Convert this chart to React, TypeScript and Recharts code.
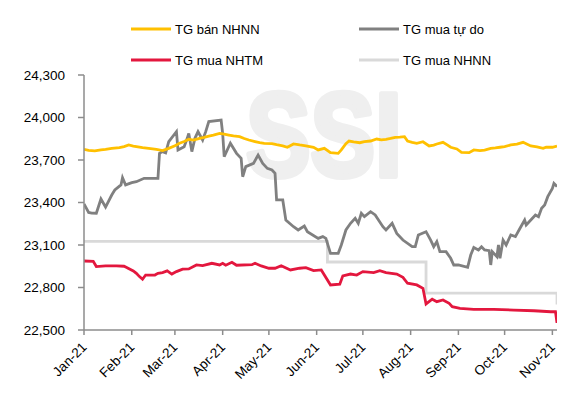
import React from "react";
import { LineChart, Line, XAxis, YAxis } from "recharts";

// ---- Data ----
const monthTicks = ["01-01", "02-01", "03-01", "04-01", "05-01", "06-01", "07-01", "08-01", "09-01", "10-01", "11-01"];
const monthLabels = ["Jan-21", "Feb-21", "Mar-21", "Apr-21", "May-21", "Jun-21", "Jul-21", "Aug-21", "Sep-21", "Oct-21", "Nov-21"];
const yTicks = [22500, 22800, 23100, 23400, 23700, 24000, 24300];

const sellSbvDates = ["01-01","01-04","01-08","01-12","01-15","01-19","01-24","01-27","01-30","02-02","02-04","02-08","02-12","02-17","02-21","02-25","03-01","03-04","03-07","03-10","03-13","03-17","03-20","03-23","03-26","03-30","04-02","04-05","04-08","04-12","04-15","04-18","04-22","04-25","04-28","05-03","05-06","05-10","05-13","05-17","05-21","05-25","05-30","06-02","06-06","06-10","06-15","06-17","06-20","06-22","06-25","06-29","07-02","07-06","07-10","07-13","07-16","07-19","07-22","07-25","07-28","07-30","08-02","08-05","08-09","08-13","08-16","08-18","08-22","08-25","08-27","08-31","09-03","09-08","09-11","09-15","09-18","09-22","09-25","09-28","10-01","10-05","10-09","10-13","10-15","10-18","10-22","10-26","10-28","11-01","11-04"];
const sellSbvValues = [23775,23768,23764,23772,23775,23782,23787,23795,23806,23798,23794,23787,23782,23775,23766,23782,23800,23818,23830,23846,23840,23853,23860,23869,23875,23888,23882,23876,23870,23865,23852,23841,23830,23822,23818,23815,23808,23800,23790,23813,23806,23800,23790,23771,23782,23752,23747,23771,23815,23834,23828,23822,23830,23834,23848,23842,23846,23852,23860,23862,23865,23834,23825,23818,23829,23799,23805,23813,23825,23805,23790,23778,23754,23752,23771,23766,23770,23782,23785,23790,23795,23806,23812,23825,23815,23799,23792,23782,23790,23790,23799];

const freeDates = ["01-01","01-04","01-06","01-09","01-12","01-15","01-19","01-21","01-25","01-26","01-28","02-01","02-04","02-09","02-18","02-19","02-21","02-23","02-25","03-02","03-03","03-07","03-09","03-10","03-12","03-14","03-16","03-19","03-21","03-23","03-31","04-01","04-02","04-06","04-10","04-13","04-14","04-16","04-21","04-24","04-27","04-30","05-03","05-05","05-06","05-10","05-12","05-17","05-20","05-24","05-26","06-02","06-05","06-07","06-10","06-15","06-17","06-20","06-23","06-26","06-28","06-30","07-02","07-06","07-09","07-14","07-16","07-20","07-23","07-27","08-02","08-04","08-06","08-11","08-14","08-16","08-18","08-20","08-24","08-27","08-29","09-01","09-07","09-09","09-11","09-14","09-16","09-18","09-21","09-22","09-23","09-26","09-27","09-28","09-30","10-02","10-05","10-08","10-11","10-14","10-15","10-18","10-21","10-23","10-25","10-27","10-29","11-01","11-02","11-04"];
const freeValues = [23390,23330,23325,23324,23425,23368,23453,23488,23524,23575,23524,23540,23547,23571,23571,23747,23759,23750,23829,23900,23771,23794,23853,23888,23759,23853,23900,23841,23900,23971,23982,23888,23724,23818,23747,23712,23582,23653,23676,23735,23676,23641,23629,23606,23418,23418,23276,23229,23206,23234,23194,23147,23159,23147,23041,23041,23100,23206,23253,23288,23253,23324,23300,23335,23312,23229,23206,23253,23182,23135,23088,23088,23171,23194,23135,23088,23124,23053,23053,23006,22959,22959,22942,23029,23082,23065,23088,23065,23060,22959,23053,23018,23100,23006,23135,23100,23171,23159,23218,23276,23241,23276,23312,23300,23359,23382,23441,23500,23535,23512];

const bankBuyDates = ["01-01","01-07","01-09","01-15","01-22","01-27","01-29","02-02","02-04","02-06","02-08","02-10","02-16","02-18","02-21","02-24","02-27","03-02","03-06","03-10","03-15","03-19","03-25","03-30","04-01","04-03","04-07","04-10","04-20","04-22","04-26","05-01","05-05","05-09","05-15","05-21","05-25","05-30","06-04","06-06","06-10","06-16","06-18","06-23","06-27","07-01","07-08","07-12","07-16","07-23","07-27","07-30","08-05","08-09","08-11","08-15","08-18","08-22","08-26","08-28","09-02","09-11","09-24","10-07","10-20","10-31","11-03","11-04"];
const bankBuyValues = [22987,22985,22948,22952,22952,22950,22940,22917,22900,22877,22858,22888,22888,22900,22905,22917,22895,22912,22929,22931,22959,22954,22971,22959,22971,22957,22978,22957,22961,22971,22952,22936,22936,22954,22924,22936,22940,22919,22924,22888,22818,22823,22882,22895,22888,22912,22905,22919,22905,22895,22872,22830,22818,22794,22684,22717,22700,22712,22688,22665,22653,22646,22646,22641,22636,22629,22630,22550];

const buySbvDates = ["01-01", "06-08", "08-11", "11-03", "11-04"];
const buySbvValues = [23125, 22980, 22760, 22760, 22680];

// ---- Helpers ----
const dayOf = (md: string) => {
  const [m, d] = md.split("-").map(Number);
  return Math.round((Date.UTC(2021, m - 1, d) - Date.UTC(2021, 0, 1)) / 86400000);
};
const toSeries = (dates: string[], values: number[]) =>
  dates.map((d, i) => ({ day: dayOf(d), v: values[i] }));

const sellSbv = toSeries(sellSbvDates, sellSbvValues);
const free = toSeries(freeDates, freeValues);
const bankBuy = toSeries(bankBuyDates, bankBuyValues);
const buySbv = toSeries(buySbvDates, buySbvValues);
const xTickDays = monthTicks.map(dayOf);

const FONT = "'Liberation Sans', Arial, sans-serif";
const C_YELLOW = "#FFC000";
const C_GRAY = "#808080";
const C_RED = "#E3173E";
const C_LIGHT = "#D9D9D9";
const AXIS = "#8C8C8C";
const WM = "#EFEFEF";

const XTick = (props: any) => {
  const { x, y, payload } = props;
  const idx = xTickDays.indexOf(payload.value);
  const label = idx >= 0 ? monthLabels[idx] : "";
  const tx = x + 3.5;
  const ty = y + 11;
  return (
    <text x={tx} y={ty} transform={`rotate(-45, ${tx}, ${ty})`} textAnchor="end" fontSize={13.5} fontFamily={FONT} fill="#000">
      {label}
    </text>
  );
};

const legendItems = [
  { name: "TG bán NHNN", color: C_YELLOW, x: 131, y: 29 },
  { name: "TG mua tự do", color: C_GRAY, x: 359, y: 29 },
  { name: "TG mua NHTM", color: C_RED, x: 131, y: 60 },
  { name: "TG mua NHNN", color: C_LIGHT, x: 359, y: 60 },
];

export default function App() {
  return (
    <div style={{ position: "absolute", left: 0, top: 0, width: 576, height: 396, background: "#fff", overflow: "hidden" }}>
      <svg width={576} height={396} style={{ position: "absolute", left: 0, top: 0 }}>
        <text
          x={246}
          y={175.5}
          fontSize={118}
          fontWeight="bold"
          fontFamily={FONT}
          fill={WM}
          stroke={WM}
          strokeWidth={6}
          strokeLinejoin="round"
          textLength={156}
          lengthAdjust="spacingAndGlyphs"
        >
          SSI
        </text>
        {legendItems.map((it) => (
          <g key={it.name}>
            <line x1={it.x} x2={it.x + 40} y1={it.y} y2={it.y} stroke={it.color} strokeWidth={3} />
            <text x={it.x + 44} y={it.y} dy="0.35em" fontSize={13} fontFamily={FONT} fill="#000">
              {it.name}
            </text>
          </g>
        ))}
      </svg>
      <div style={{ position: "absolute", left: 0, top: 0 }}>
        <LineChart width={576} height={396} margin={{ top: 75, right: 19, bottom: 0, left: 0 }}>
          <XAxis
            type="number"
            dataKey="day"
            domain={[0, 307]}
            ticks={xTickDays}
            interval={0}
            tick={<XTick />}
            tickSize={5}
            tickMargin={2}
            height={66}
            stroke={AXIS}
            axisLine={{ stroke: AXIS, strokeWidth: 1.5 }}
            tickLine={{ stroke: AXIS, strokeWidth: 1.5 }}
            allowDataOverflow
          />
          <YAxis
            type="number"
            domain={[22500, 24300]}
            ticks={yTicks}
            interval={0}
            width={84}
            tickSize={6}
            tickMargin={13}
            tickFormatter={(v: number) => v.toLocaleString("en-US")}
            tick={{ fontSize: 13.5, fontFamily: FONT, fill: "#000" }}
            axisLine={{ stroke: AXIS, strokeWidth: 1.5 }}
            tickLine={{ stroke: AXIS, strokeWidth: 1.5 }}
            allowDataOverflow
          />
          <Line data={buySbv} dataKey="v" type="stepAfter" stroke={C_LIGHT} strokeWidth={2.8} dot={false} isAnimationActive={false} />
          <Line data={free} dataKey="v" type="linear" stroke={C_GRAY} strokeWidth={2.8} dot={false} isAnimationActive={false} />
          <Line data={bankBuy} dataKey="v" type="linear" stroke={C_RED} strokeWidth={2.8} dot={false} isAnimationActive={false} />
          <Line data={sellSbv} dataKey="v" type="linear" stroke={C_YELLOW} strokeWidth={2.8} dot={false} isAnimationActive={false} />
        </LineChart>
      </div>
    </div>
  );
}
